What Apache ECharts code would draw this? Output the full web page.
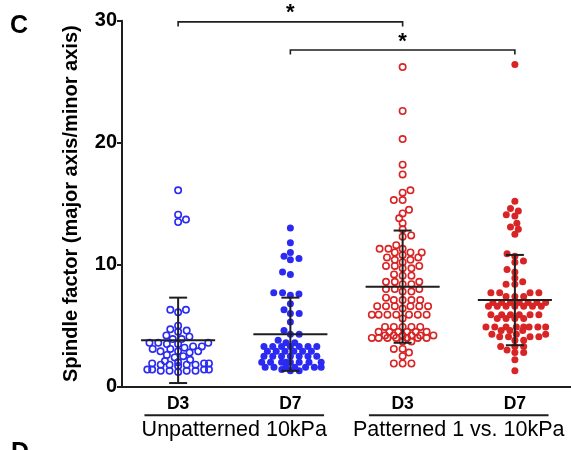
<!DOCTYPE html>
<html>
<head>
<meta charset="utf-8">
<script src="https://cdn.jsdelivr.net/npm/echarts@6/dist/echarts.min.js"></script>
<style>html,body{margin:0;padding:0;background:#fff}#c{width:571px;height:450px}</style>
</head>
<body>
<div id="c"></div>
<script>
// ---- data ----
const categories = ['D3', 'D7', 'D3', 'D7'];
const groupLabels = ['Unpatterned 10kPa', 'Patterned 1 vs. 10kPa'];
const d3Unpatterned = [16.1, 14.1, 13.7, 13.5, 6.3, 6.1, 6.3, 5.0, 4.7, 4.5, 4.6, 4.2, 4.1, 3.9, 3.9,
  3.6, 3.6, 3.5, 3.6, 3.5, 3.3, 3.2, 3.1, 3.1, 3.3, 2.9, 2.8, 2.9, 2.9, 2.6, 2.5, 2.4, 2.2, 2.1, 2.0,
  1.9, 1.8, 1.9, 1.8, 1.8, 1.9, 1.8, 1.7, 1.4, 1.3, 1.4, 1.3, 1.4, 1.3, 1.4, 1.3, 1.2];
const d7Unpatterned = [13.0, 11.8, 11.0, 10.7, 10.5, 10.4, 9.4, 9.2, 7.7, 7.7, 7.6, 7.5, 6.8, 6.3, 6.0, 6.0,
  5.3, 4.6, 4.3, 4.3, 3.8, 3.6, 3.6, 3.3, 3.3, 3.3, 3.3, 3.3, 3.3, 3.3, 2.9, 2.9, 2.9, 2.9, 2.9, 2.9,
  2.5, 2.5, 2.5, 2.5, 2.5, 2.5, 2.5, 2.0, 2.0, 2.0, 2.0, 2.0, 2.0, 2.0, 2.0, 1.6, 1.6, 1.6, 1.6, 1.6, 1.6, 1.6,
  1.4, 1.3, 1.3];
const d3Patterned = [26.2, 22.6, 20.3, 18.2, 17.4, 16.1, 15.9, 15.3, 15.3, 14.5, 14.2, 13.8, 13.4, 12.9, 12.4, 12.3,
  11.6, 11.3, 11.3, 11.3, 11.0, 11.0, 11.0, 10.8, 10.6, 10.6, 10.4, 10.4, 10.2, 9.9, 9.9, 9.9, 9.7, 9.7,
  9.2, 9.1, 9.1, 8.6, 8.6, 8.6, 8.4, 8.4, 8.0, 8.0, 8.0, 7.8, 7.8,
  7.3, 7.1, 7.1, 7.1, 7.1, 6.6, 6.6, 6.6, 6.6, 6.6, 6.6, 6.4,
  5.9, 5.9, 5.9, 5.9, 5.9, 5.9, 5.9, 5.6,
  4.9, 4.9, 4.9, 4.9, 4.9, 4.5, 4.5, 4.5, 4.5, 4.5, 4.5, 4.2, 4.2, 4.2, 4.2, 4.2, 4.2,
  4.0, 4.0, 4.0, 4.0, 4.0, 4.0, 4.0, 3.7, 3.7,
  3.1, 3.1, 2.8, 2.5, 1.9, 1.9, 1.9];
const d7Patterned = [26.4, 15.2, 14.6, 14.4, 14.1, 14.0, 13.4, 13.1, 12.9, 12.5,
  10.9, 10.7, 10.3, 10.2, 9.6, 9.4, 8.9, 8.6, 8.4, 8.4,
  7.7, 7.7, 7.7, 7.7, 7.4, 7.4, 7.4, 6.9, 6.9, 6.9, 6.9, 6.9, 6.9, 6.9, 6.6, 6.6, 6.6, 6.6, 6.6, 6.6, 6.6,
  5.9, 5.9, 5.9, 5.9, 5.9, 5.9, 5.6, 5.6, 5.6, 5.6,
  4.9, 4.9, 4.9, 4.9, 4.9, 4.9, 4.9, 4.9, 4.6, 4.6, 4.6, 4.3, 4.3, 4.3, 4.1, 4.1, 4.1, 4.1, 3.8, 3.8,
  3.3, 3.3, 3.3, 3.0, 2.8, 2.8, 2.2, 1.3];
const means = [3.8, 4.3, 8.2, 7.1];
const sds = [3.5, 3.0, 4.6, 3.7];
// significance comparisons: [from category, to category, bracket height]
const comparisons = [[1, 3, 29.9], [2, 4, 27.6]];
const yMin = 0, yMax = 30, yInterval = 10;

const FONT = "'Liberation Sans', Arial, Helvetica, sans-serif";
const BLUE = '#2a2af2';
const RED = '#d82424';
const INK = '#1e1e1e';

const chart = echarts.init(document.getElementById('c'), null, { renderer: 'canvas' });

const base = {
  animation: false,
  backgroundColor: '#fff',
  grid: { left: 122, top: 20.7, width: 453, bottom: 63.3 },
  xAxis: [
    {
      type: 'category', data: categories, boundaryGap: true,
      axisLine: { lineStyle: { color: INK, width: 2 } },
      axisTick: { alignWithLabel: true, length: 4, lineStyle: { color: INK, width: 1.5 } },
      axisLabel: { color: '#000', fontFamily: FONT, fontWeight: 'bold', fontSize: 17.5, margin: 8 },
      splitLine: { show: false }
    },
    { type: 'value', min: 0.5, max: 4.5, show: false, splitLine: { show: false } }
  ],
  yAxis: {
    type: 'value', min: yMin, max: yMax, interval: yInterval,
    name: 'Spindle factor (major axis/minor axis)', nameLocation: 'middle', nameGap: 41, nameRotate: 90,
    nameTextStyle: { color: '#000', fontFamily: FONT, fontWeight: 'bold', fontSize: 20 },
    axisLine: { show: true, lineStyle: { color: INK, width: 2 } },
    axisTick: { show: true, length: 5, lineStyle: { color: INK, width: 2 } },
    axisLabel: { color: '#000', fontFamily: FONT, fontWeight: 'bold', fontSize: 20, margin: 5 },
    splitLine: { show: false }
  },
  graphic: [
    { type: 'text', left: 10, top: 14, style: { text: 'C', font: 'bold 25px ' + FONT, fill: '#000' } },
    { type: 'text', left: 11, top: 441, style: { text: 'D', font: 'bold 25px ' + FONT, fill: '#000' } }
  ],
  series: []
};
chart.setOption(base);

// pixel scale from the library's own axes
const p0 = chart.convertToPixel({ xAxisIndex: 1, yAxisIndex: 0 }, [1, 0]);
const p1 = chart.convertToPixel({ xAxisIndex: 1, yAxisIndex: 0 }, [2, 10]);
const pxX = Math.abs(p1[0] - p0[0]);
const pxY = Math.abs(p1[1] - p0[1]) / 10;

// beeswarm placement with an elliptical footprint and a maximum half-width
function swarm(values, cx, ax, ay, maxHalf) {
  const order = values.map((v, i) => i).sort((a, b) => values[a] - values[b]);
  const placed = [];
  const out = new Array(values.length);
  let flip = 1;
  const dist = (p, x, y) => ((p.x - x) / ax) ** 2 + ((p.y - y) / ay) ** 2;
  order.forEach(i => {
    const y = values[i] * pxY;
    const cands = [0];
    placed.forEach(p => {
      const dy = Math.abs(p.y - y);
      if (dy < ay) {
        const dx = ax * Math.sqrt(1 - (dy / ay) ** 2) + 0.01;
        cands.push(p.x + dx, p.x - dx);
      }
    });
    cands.sort((a, b) => {
      const d = Math.abs(a) - Math.abs(b);
      if (Math.abs(d) > 0.05) return d;
      return (b * flip) - (a * flip);
    });
    let best = cands.find(c => Math.abs(c) <= maxHalf && placed.every(p => dist(p, c, y) >= 0.999));
    if (best === undefined) {
      let score = -1;
      for (let c = 0; c <= maxHalf + 0.01; c += ax / 2) {
        [c * flip, -c * flip].forEach(cc => {
          const s = placed.reduce((m, p) => Math.min(m, dist(p, cc, y)), Infinity);
          if (s > score + 1e-6) { score = s; best = cc; }
        });
      }
    }
    if (best !== 0) flip = -flip;
    placed.push({ x: best, y: y });
    out[i] = [cx + best / pxX, values[i]];
  });
  return out;
}

const sets = [
  { data: d3Unpatterned, color: BLUE, open: true },
  { data: d7Unpatterned, color: BLUE, open: false },
  { data: d3Patterned, color: RED, open: true },
  { data: d7Patterned, color: RED, open: false }
];

const scatterSeries = sets.map((s, k) => ({
  type: 'scatter', xAxisIndex: 1, yAxisIndex: 0,
  data: swarm(s.data, k + 1, 8.8, 5.3, 31),
  symbol: 'circle', symbolSize: s.open ? 6.4 : 7,
  itemStyle: s.open
    ? { color: 'rgba(255,255,255,0)', borderColor: s.color, borderWidth: 1.6, opacity: 1 }
    : { color: s.color, borderWidth: 0, opacity: 1 },
  z: 2, silent: true
}));

const statSeries = {
  type: 'custom', xAxisIndex: 1, yAxisIndex: 0, z: 5, silent: true, clip: false,
  data: means.map((m, i) => [i + 1, m, sds[i]]),
  renderItem: function (params, api) {
    const x = api.value(0), m = api.value(1), s = api.value(2);
    const cL = api.coord([x - 0.33, m]), cR = api.coord([x + 0.33, m]);
    const top = api.coord([x, m + s]), bot = api.coord([x, m - s]);
    const st = { stroke: INK, lineWidth: 2 };
    return {
      type: 'group', children: [
        { type: 'line', shape: { x1: cL[0], y1: cL[1], x2: cR[0], y2: cR[1] }, style: st },
        { type: 'line', shape: { x1: top[0], y1: top[1], x2: bot[0], y2: bot[1] }, style: st },
        { type: 'line', shape: { x1: top[0] - 9, y1: top[1], x2: top[0] + 9, y2: top[1] }, style: st },
        { type: 'line', shape: { x1: bot[0] - 9, y1: bot[1], x2: bot[0] + 9, y2: bot[1] }, style: st }
      ]
    };
  }
};

const bracketSeries = {
  type: 'custom', xAxisIndex: 1, yAxisIndex: 0, z: 6, silent: true, clip: false,
  data: comparisons,
  renderItem: function (params, api) {
    const a = api.coord([api.value(0), api.value(2)]);
    const b = api.coord([api.value(1), api.value(2)]);
    const st = { stroke: INK, lineWidth: 1.6, fill: null };
    return {
      type: 'group', children: [
        { type: 'polyline', shape: { points: [[a[0], a[1] + 4.5], [a[0], a[1]], [b[0], b[1]], [b[0], b[1] + 4.5]] }, style: st },
        { type: 'text', x: (a[0] + b[0]) / 2, y: a[1] - 8.5,
          style: { text: '*', font: 'bold 22px ' + FONT, fill: '#000', align: 'center', verticalAlign: 'middle' } }
      ]
    };
  }
};

const groupSeries = {
  type: 'custom', xAxisIndex: 1, yAxisIndex: 0, z: 6, silent: true, clip: false,
  data: groupLabels.map((g, i) => [2 * i + 1.5, 0]),
  renderItem: function (params, api) {
    const c = api.coord([api.value(0), 0]);
    const l = api.coord([api.value(0) - 0.8, 0]);
    const r = api.coord([api.value(0) + 0.8, 0]);
    return {
      type: 'group', children: [
        { type: 'line', shape: { x1: l[0], y1: c[1] + 28.5, x2: r[0], y2: c[1] + 28.5 }, style: { stroke: INK, lineWidth: 2 } },
        { type: 'text', x: c[0], y: c[1] + 32,
          style: { text: groupLabels[params.dataIndex], font: '21.5px ' + FONT, fill: '#000', align: 'center', verticalAlign: 'top' } }
      ]
    };
  }
};

chart.setOption({ series: scatterSeries.concat([statSeries, bracketSeries, groupSeries]) });
</script>
</body>
</html>
